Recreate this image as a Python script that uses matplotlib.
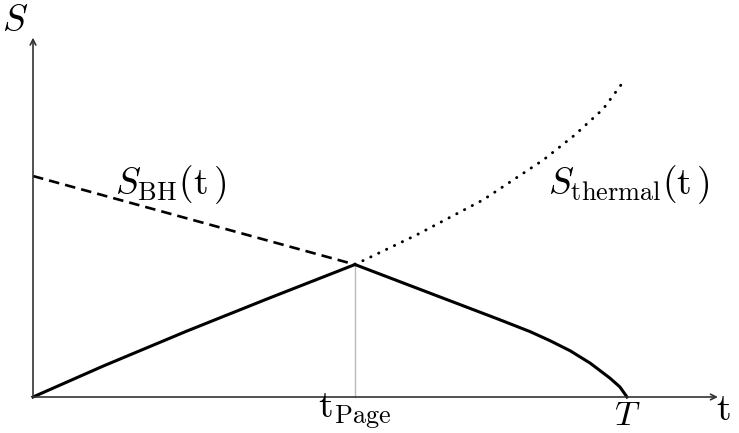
import numpy as np
import matplotlib.pyplot as plt

plt.rcParams['mathtext.fontset'] = 'cm'

# time in units of the evaporation time T, entropy in the same units
t_page = 0.542
T_end = 1.0

t_rise = [0.0, 0.118, 0.259, 0.399, 0.542]
S_rise = [0.0, 0.052, 0.111, 0.167, 0.223]

t_fall = [0.542, 0.618, 0.702, 0.786, 0.837, 0.870, 0.904, 0.938, 0.971, 0.988, 1.0]
S_fall = [0.223, 0.194, 0.162, 0.130, 0.110, 0.095, 0.078, 0.057, 0.032, 0.017, 0.0]

t_bh = [0.0, 0.542]
S_bh = [0.372, 0.223]

t_th = [0.542, 0.646, 0.758, 0.859, 0.912, 0.960, 0.997]
S_th = [0.223, 0.273, 0.332, 0.399, 0.441, 0.485, 0.535]

fig = plt.figure(figsize=(7.39, 4.33), dpi=100)
ax = fig.add_axes([0, 0, 1, 1])
ax.set_xlim(-33 / 594, 706 / 594)
ax.set_ylim(-36 / 594, 397 / 594)
ax.axis('off')

# axes with arrows
ax.annotate('', xy=(1.153, 0), xytext=(0, 0),
            arrowprops=dict(arrowstyle='->', color='#333333', lw=1.2, shrinkA=0, shrinkB=0))
ax.annotate('', xy=(0, 0.605), xytext=(0, 0),
            arrowprops=dict(arrowstyle='->', color='#333333', lw=1.2, shrinkA=0, shrinkB=0))

ax.plot([t_page, t_page], [0, S_rise[-1]], color='#bbbbbb', lw=1.0)

ax.plot(t_bh, S_bh, color='black', lw=1.9, ls=(0, (4, 2.3)))
ax.plot(t_th, S_th, color='black', lw=2.1, ls=(0, (0.1, 2.9)), dash_capstyle='round')
ax.plot(t_rise, S_rise, color='black', lw=2.2, solid_joinstyle='round')
ax.plot(t_fall, S_fall, color='black', lw=2.2, solid_joinstyle='round')

fs = 27
ax.text(-0.030, 0.633, r'$S$', fontsize=fs, ha='center', va='center')
ax.text(1.162, -0.022, r'$\mathrm{t}$', fontsize=fs, ha='center', va='center')
ax.text(T_end, -0.031, r'$T$', fontsize=25, ha='center', va='center')
ax.text(t_page, -0.024, r'$\mathrm{t}_{\mathrm{Page}}$', fontsize=fs, ha='center', va='center')
ax.text(0.231, 0.357, r'$S_{\mathrm{BH}}(\mathrm{t}\,)$', fontsize=fs, ha='center', va='center')
ax.text(1.003, 0.357, r'$S_{\mathrm{thermal}}(\mathrm{t}\,)$', fontsize=fs, ha='center', va='center')

fig.savefig('out.png', dpi=100)
